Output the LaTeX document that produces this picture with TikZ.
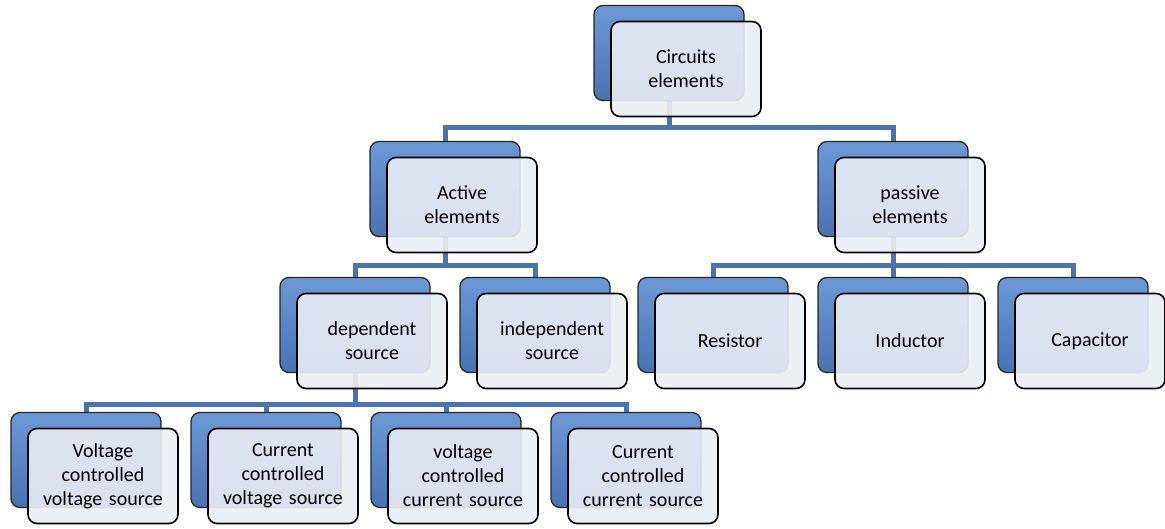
\documentclass[tikz,border=0pt]{standalone}
\usepackage{fontspec}
\setmainfont{Carlito}
\usetikzlibrary{positioning,backgrounds}
\definecolor{linkblue}{HTML}{4A74AC}
\definecolor{backtop}{HTML}{6C98D5}
\definecolor{backmid}{HTML}{8BB0E3}
\definecolor{backbot}{HTML}{4874B4}
\definecolor{frontfill}{HTML}{E9EDF5}
\tikzset{backbox/.style={draw=black!85,line width=1.3pt,rounded corners=9pt,minimum width=150pt,minimum height=95pt,top color=backtop,middle color=backmid,bottom color=backbot},
         frontbox/.style={draw=black,line width=1.6pt,rounded corners=9pt,minimum width=150pt,minimum height=95pt,inner sep=3pt,fill=frontfill,fill opacity=0.9,text opacity=1,text width=142pt,align=center,xshift=17pt,yshift=-16pt,font=\fontsize{20}{24}\selectfont},
         link/.style={draw=linkblue,line width=5pt}}

\begin{document}
\begin{tikzpicture}[x=1pt,y=-1pt]
        \useasboundingbox (0,0) rectangle (1165,529);
        % level 0
        \node[backbox](root-b)at(669,53){};
        \node[frontbox](root)at(root-b){Circuits\\elements};
        % level 1
        \node[backbox](act-b)at(445,189){};
        \node[frontbox](act)at(act-b){Active\\elements};
        \node[backbox](pas-b)at(893,189){};
        \node[frontbox](pas)at(pas-b){passive\\elements};
        % level 2
        \node[backbox](dep-b)at(355,325){};
        \node[frontbox](dep)at(dep-b){dependent\\source};
        \node[backbox](ind-b)at(535,325){};
        \node[frontbox](ind)at(ind-b){independent\\source};
        \node[backbox](res-b)at(713,325){};
        \node[frontbox](res)at(res-b){Resistor};
        \node[backbox](inductor-b)at(893,325){};
        \node[frontbox](inductor)at(inductor-b){Inductor};
        \node[backbox](cap-b)at(1073,325){};
        \node[frontbox](cap)at(cap-b){Capacitor};
        % level 3
        \node[backbox](vcvs-b)at(86,460){};
        \node[frontbox](vcvs)at(vcvs-b){Voltage\\controlled\\voltage source};
        \node[backbox](ccvs-b)at(266,460){};
        \node[frontbox](ccvs)at(ccvs-b){Current\\controlled\\voltage source};
        \node[backbox](vccs-b)at(446,460){};
        \node[frontbox](vccs)at(vccs-b){voltage\\controlled\\current source};
        \node[backbox](cccs-b)at(626,460){};
        \node[frontbox](cccs)at(cccs-b){Current\\controlled\\current source};

        % connectors
        \coordinate (bus1) at (0,128);
        \coordinate (bus2) at (0,266);
        \coordinate (bus3) at (0,404);
        \begin{pgfonlayer}{background}
        \draw[link](root-b.center)--(root-b.center|-bus1);
        \draw[link](act-b.center)--(act-b.center|-bus1)--(pas-b.center|-bus1)--(pas-b.center);
        \draw[link](act-b.center)--(act-b.center|-bus2);
        \draw[link](dep-b.center)--(dep-b.center|-bus2)--(ind-b.center|-bus2)--(ind-b.center);
        \draw[link](pas-b.center)--(pas-b.center|-bus2);
        \draw[link](res-b.center)--(res-b.center|-bus2)--(cap-b.center|-bus2)--(cap-b.center);
        \draw[link](inductor-b.center)--(inductor-b.center|-bus2);
        \draw[link](dep-b.center)--(dep-b.center|-bus3);
        \draw[link](vcvs-b.center)--(vcvs-b.center|-bus3)--(cccs-b.center|-bus3)--(cccs-b.center);
        \draw[link](ccvs-b.center)--(ccvs-b.center|-bus3);
        \draw[link](vccs-b.center)--(vccs-b.center|-bus3);
        \end{pgfonlayer}
    \end{tikzpicture}
\end{document}
